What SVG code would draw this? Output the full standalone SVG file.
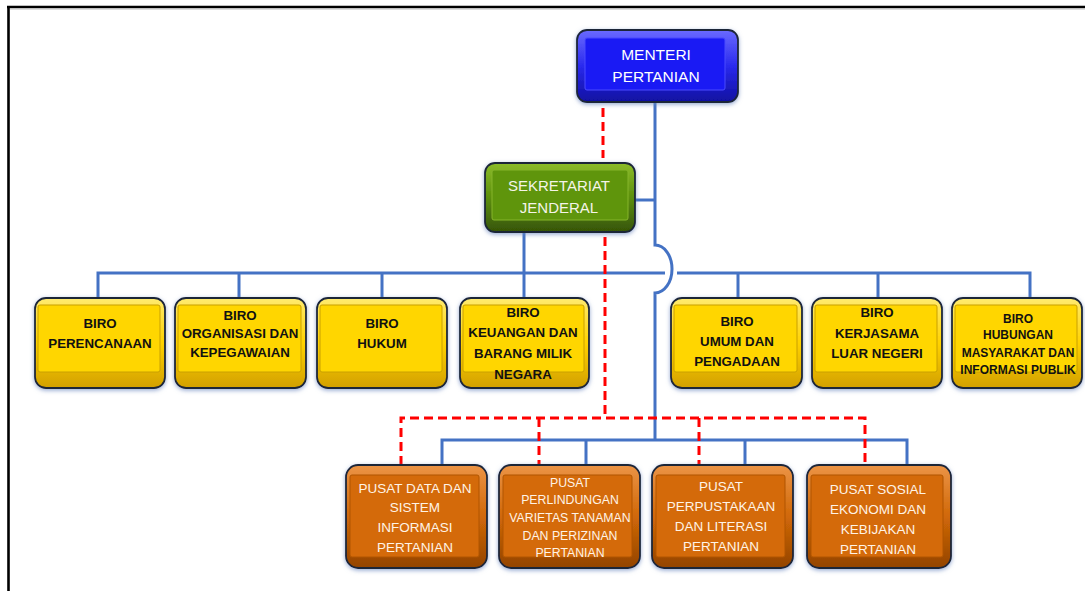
<svg xmlns="http://www.w3.org/2000/svg" width="1085" height="591" viewBox="0 0 1085 591">
<style>
.wire{fill:none;stroke:#4472c4;stroke-width:3}
.dash{fill:none;stroke:#ff0000;stroke-width:3;stroke-dasharray:9 5}
.outer{stroke:#1e2538;stroke-width:1.8;filter:url(#glow)}
.t{font-family:"Liberation Sans",Arial,sans-serif;text-anchor:middle}
.tw{fill:#ffffff;font-size:15.5px}
.tg{fill:#f4f4e8;font-size:15px}
.tb{fill:#111111;font-size:13.3px;font-weight:bold}
.tb2{fill:#111111;font-size:12px;font-weight:bold}
.to{fill:#fff3e6;font-size:13.5px}
.to2{fill:#fff3e6;font-size:12.3px}
.fb{fill:#1a1af4;stroke:#4a4aff;stroke-width:1}
.fg{fill:#5f950c;stroke:#86b52a;stroke-width:1}
.fy{fill:#ffd600;stroke:#c9a000;stroke-width:1}
.fo{fill:#d46a0a;stroke:#b05500;stroke-width:1}
</style>
<defs>
<filter id="glow" x="-10%" y="-10%" width="120%" height="125%">
<feDropShadow dx="0" dy="1.5" stdDeviation="2" flood-color="#6b86c0" flood-opacity="0.7"/>
</filter>
<linearGradient id="gb" x1="0" y1="0" x2="0" y2="1">
<stop offset="0" stop-color="#6a6aff"/><stop offset="0.5" stop-color="#2a2aee"/><stop offset="1" stop-color="#1010a0"/>
</linearGradient>
<linearGradient id="gg" x1="0" y1="0" x2="0" y2="1">
<stop offset="0" stop-color="#8cbc2a"/><stop offset="0.5" stop-color="#5c8f0c"/><stop offset="1" stop-color="#365406"/>
</linearGradient>
<linearGradient id="gy" x1="0" y1="0" x2="0" y2="1">
<stop offset="0" stop-color="#ffeb70"/><stop offset="0.5" stop-color="#ffd200"/><stop offset="1" stop-color="#d2a000"/>
</linearGradient>
<linearGradient id="go" x1="0" y1="0" x2="0" y2="1">
<stop offset="0" stop-color="#ec9446"/><stop offset="0.5" stop-color="#d06808"/><stop offset="1" stop-color="#934400"/>
</linearGradient>
</defs>
<rect x="0" y="0" width="1085" height="591" fill="#ffffff"/>
<g id="frame">
<line x1="7" y1="7" x2="1085" y2="7" stroke="#000" stroke-width="2.6"/>
<line x1="8.5" y1="6" x2="8.5" y2="591" stroke="#000" stroke-width="2.6"/>
<line x1="10" y1="9" x2="1085" y2="9" stroke="#bbbbbb" stroke-width="1"/>
</g>
<g id="connectors">
<path class="wire" d="M655,102 V245 A17,24 0 0 1 655,293 V440"/>
<path class="wire" d="M635,200 H655"/>
<path class="wire" d="M524,232 V298"/>
<path class="wire" d="M98,298 V273 H665 M677,273 H1030 V298"/>
<path class="wire" d="M239,273 V298 M382,273 V298 M738,273 V298 M878,273 V298"/>
<path class="wire" d="M442,465 V440 H907 V465 M586,440 V465 M745,440 V465"/>
<path class="dash" d="M603,108 V158"/>
<path class="dash" d="M605,237 V418"/>
<path class="dash" d="M401,465 V418 H865 V465 M539,418 V465 M699,418 V465"/>
</g>
<g id="menteri">
<rect class="outer" x="577" y="30" width="161" height="72" rx="10" fill="url(#gb)"/>
<rect class="fb" x="585" y="38" width="140" height="52" rx="2"/>
<text class="t tw" x="656" y="60">MENTERI</text>
<text class="t tw" x="656" y="82">PERTANIAN</text>
</g>
<g id="sekjen">
<rect class="outer" x="485" y="163" width="150" height="69" rx="10" fill="url(#gg)"/>
<rect class="fg" x="492" y="170" width="136" height="50" rx="2"/>
<text class="t tg" x="559" y="190.5">SEKRETARIAT</text>
<text class="t tg" x="559" y="212.5">JENDERAL</text>
</g>
<g id="biro-perencanaan">
<rect class="outer" x="35" y="298" width="130" height="90" rx="11" fill="url(#gy)"/>
<rect class="fy" x="38" y="305" width="122" height="67" rx="2"/>
<text class="t tb" x="100" y="328">BIRO</text>
<text class="t tb" x="100" y="348">PERENCANAAN</text>
</g>
<g id="biro-organisasi">
<rect class="outer" x="175" y="298" width="131" height="90" rx="11" fill="url(#gy)"/>
<rect class="fy" x="178" y="305" width="123" height="67" rx="2"/>
<text class="t tb" x="240" y="320">BIRO</text>
<text class="t tb" x="240" y="338">ORGANISASI DAN</text>
<text class="t tb" x="240" y="357">KEPEGAWAIAN</text>
</g>
<g id="biro-hukum">
<rect class="outer" x="317" y="298" width="130" height="90" rx="11" fill="url(#gy)"/>
<rect class="fy" x="320" y="305" width="122" height="67" rx="2"/>
<text class="t tb" x="382" y="328">BIRO</text>
<text class="t tb" x="382" y="348">HUKUM</text>
</g>
<g id="biro-keuangan">
<rect class="outer" x="460" y="298" width="129" height="90" rx="11" fill="url(#gy)"/>
<rect class="fy" x="463" y="305" width="121" height="67" rx="2"/>
<text class="t tb" x="523" y="317">BIRO</text>
<text class="t tb" x="523" y="337">KEUANGAN DAN</text>
<text class="t tb" x="523" y="358">BARANG MILIK</text>
<text class="t tb" x="523" y="379">NEGARA</text>
</g>
<g id="biro-umum">
<rect class="outer" x="671" y="298" width="131" height="90" rx="11" fill="url(#gy)"/>
<rect class="fy" x="674" y="305" width="123" height="67" rx="2"/>
<text class="t tb" x="737" y="326">BIRO</text>
<text class="t tb" x="737" y="346">UMUM DAN</text>
<text class="t tb" x="737" y="366">PENGADAAN</text>
</g>
<g id="biro-kerjasama">
<rect class="outer" x="812" y="298" width="130" height="90" rx="11" fill="url(#gy)"/>
<rect class="fy" x="815" y="305" width="122" height="67" rx="2"/>
<text class="t tb" x="877" y="317">BIRO</text>
<text class="t tb" x="877" y="338">KERJASAMA</text>
<text class="t tb" x="877" y="358">LUAR NEGERI</text>
</g>
<g id="biro-humas">
<rect class="outer" x="952" y="298" width="130" height="90" rx="11" fill="url(#gy)"/>
<rect class="fy" x="955" y="305" width="122" height="67" rx="2"/>
<text class="t tb2" x="1018" y="322.5">BIRO</text>
<text class="t tb2" x="1018" y="338.5">HUBUNGAN</text>
<text class="t tb2" x="1018" y="356.5">MASYARAKAT DAN</text>
<text class="t tb2" x="1018" y="373.5">INFORMASI PUBLIK</text>
</g>
<g id="pusat-data">
<rect class="outer" x="346" y="465" width="141" height="103" rx="12" fill="url(#go)"/>
<rect class="fo" x="350" y="475" width="129" height="82" rx="2"/>
<text class="t to" x="415" y="492.5">PUSAT DATA DAN</text>
<text class="t to" x="415" y="512">SISTEM</text>
<text class="t to" x="415" y="532">INFORMASI</text>
<text class="t to" x="415" y="552">PERTANIAN</text>
</g>
<g id="pusat-pvt">
<rect class="outer" x="499" y="465" width="141" height="103" rx="12" fill="url(#go)"/>
<rect class="fo" x="503" y="475" width="129" height="82" rx="2"/>
<text class="t to2" x="570" y="486.5">PUSAT</text>
<text class="t to2" x="570" y="504">PERLINDUNGAN</text>
<text class="t to2" x="570" y="522">VARIETAS TANAMAN</text>
<text class="t to2" x="570" y="540">DAN PERIZINAN</text>
<text class="t to2" x="570" y="557">PERTANIAN</text>
</g>
<g id="pusat-perpustakaan">
<rect class="outer" x="652" y="465" width="141" height="103" rx="12" fill="url(#go)"/>
<rect class="fo" x="656" y="475" width="129" height="82" rx="2"/>
<text class="t to" x="721" y="491">PUSAT</text>
<text class="t to" x="721" y="511">PERPUSTAKAAN</text>
<text class="t to" x="721" y="531">DAN LITERASI</text>
<text class="t to" x="721" y="551">PERTANIAN</text>
</g>
<g id="pusat-sosek">
<rect class="outer" x="807" y="465" width="144" height="103" rx="12" fill="url(#go)"/>
<rect class="fo" x="811" y="475" width="132" height="82" rx="2"/>
<text class="t to" x="878" y="494">PUSAT SOSIAL</text>
<text class="t to" x="878" y="514">EKONOMI DAN</text>
<text class="t to" x="878" y="534">KEBIJAKAN</text>
<text class="t to" x="878" y="554">PERTANIAN</text>
</g>
</svg>
